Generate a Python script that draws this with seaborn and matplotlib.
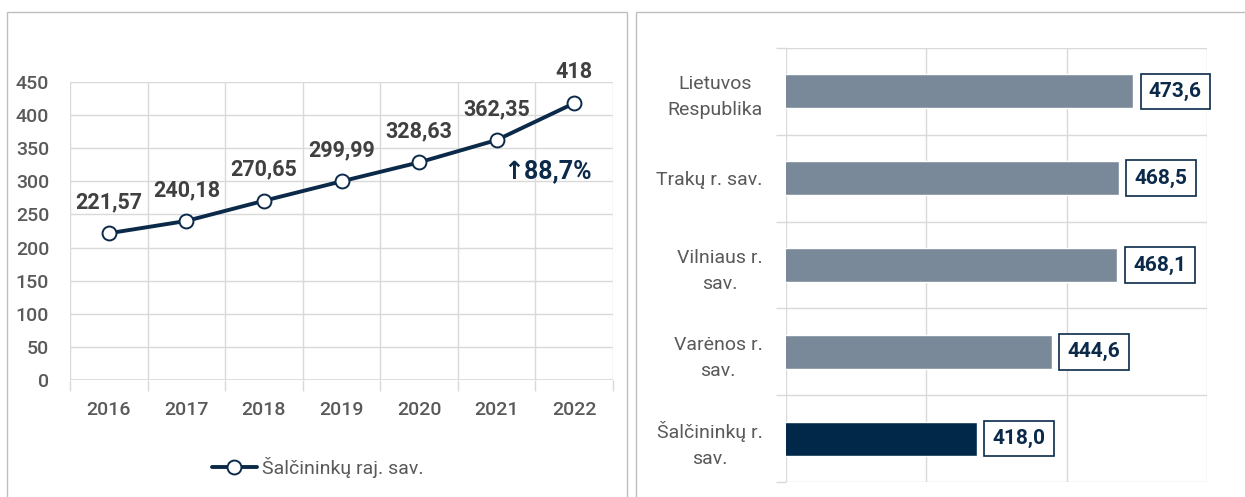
import matplotlib
matplotlib.use("Agg")
import matplotlib.pyplot as plt
from matplotlib import font_manager as fm
from matplotlib.patches import Rectangle
import seaborn as sns

years = ["2016", "2017", "2018", "2019", "2020", "2021", "2022"]
income = [221.57, 240.18, 270.65, 299.99, 328.63, 362.35, 418]
series_name = "Šalčininkų raj. sav."
growth_text = "↑88,7%"

regions = ["Lietuvos\nRespublika", "Trakų r. sav.", "Vilniaus r.\nsav.",
           "Varėnos r.\nsav.", "Šalčininkų r.\nsav."]
region_vals = [473.6, 468.5, 468.1, 444.6, 418.0]

navy = "#0b2a4a"
bar_dark = "#022849"
bar_gray = "#7a8999"
txt_gray = "#595959"
lbl_gray = "#404040"
grid_c = "#d9d9d9"

sns.set_theme(style="white")
names = {f.name for f in fm.fontManager.ttflist}
base = "Liberation Sans Narrow" if "Liberation Sans Narrow" in names else "Roboto"
plt.rcParams["font.family"] = [base, "DejaVu Sans"]

fig = plt.figure(figsize=(12.45, 4.97), dpi=100)
W, H = 1245, 497

# panel frames
fig.add_artist(Rectangle((7 / W, -0.1), (627 - 7) / W, (497 - 12) / H + 0.1,
                         transform=fig.transFigure, fill=False, ec="#bfbfbf", lw=1))
fig.add_artist(Rectangle((636 / W, -0.1), 0.6, (497 - 12) / H + 0.1,
                         transform=fig.transFigure, fill=False, ec="#bfbfbf", lw=1))

# ---- left: line chart
ax1 = fig.add_axes([70 / W, (H - 380) / H, (613 - 70) / W, (380 - 82) / H])
sns.lineplot(x=years, y=income, ax=ax1, color=navy, linewidth=2.8, marker="o",
             markersize=10, markerfacecolor="white", markeredgecolor=navy,
             markeredgewidth=1.4, label=series_name)
ax1.set_xlim(-0.5, len(years) - 0.5)
ax1.set_ylim(0, 450)
ax1.set_yticks(range(0, 451, 50))
ax1.set_xticks([i - 0.5 for i in range(len(years) + 1)], minor=True)
ax1.grid(axis="y", which="major", color=grid_c, lw=1)
ax1.grid(axis="x", which="minor", color=grid_c, lw=1)
for s in ax1.spines.values():
    s.set_visible(False)
ax1.axhline(0, color=grid_c, lw=1.2)
ax1.tick_params(axis="x", which="minor", length=8, color=grid_c, direction="out", bottom=True)
ax1.tick_params(axis="x", which="major", length=0, pad=15, labelsize=14, labelcolor=txt_gray)
ax1.tick_params(axis="y", length=0, pad=15, labelsize=14, labelcolor=txt_gray)
for t in ax1.get_xticklabels() + ax1.get_yticklabels():
    t.set_fontweight("medium")
ax1.set_xlabel("")
ax1.set_ylabel("")
for i, v in enumerate(income):
    lab = f"{v:g}".replace(".", ",")
    ax1.annotate(lab, (i, v), xytext=(0, 18), textcoords="offset points",
                 ha="center", va="baseline", fontsize=15.5, color=lbl_gray,
                 fontweight="semibold", annotation_clip=False)
ax1.text(5.66, 316, growth_text, ha="center", va="center", fontsize=18,
         color=navy, fontweight="semibold")
ax1.legend(loc="center", bbox_to_anchor=(318 / W, 30 / H), bbox_transform=fig.transFigure,
           frameon=False, fontsize=14, labelcolor=txt_gray, handlelength=2.3,
           handletextpad=0.3)

# ---- right: bar chart
ax2 = fig.add_axes([786 / W, (H - 482) / H, (1207 - 786) / W, (482 - 48) / H])
colors = [bar_gray] * (len(regions) - 1) + [bar_dark]
sns.barplot(x=region_vals, y=regions, orient="h", hue=regions, palette=colors,
            legend=False, width=0.39, ax=ax2, saturation=1)
ax2.set_xlim(350, 500)
ax2.set_xticks([350, 400, 450, 500])
ax2.set_xticklabels([])
ax2.set_yticks([i - 0.5 for i in range(len(regions) + 1)], minor=True)
ax2.grid(axis="x", which="major", color=grid_c, lw=1)
ax2.grid(axis="y", which="minor", color=grid_c, lw=1)
ax2.set_axisbelow(True)
for s in ax2.spines.values():
    s.set_visible(False)
ax2.tick_params(axis="y", which="minor", length=7, color=grid_c, direction="out", left=True)
ax2.tick_params(axis="y", which="major", length=0, pad=17, labelsize=14, labelcolor=txt_gray)
ax2.tick_params(axis="x", length=0)
for t in ax2.get_yticklabels():
    t.set_multialignment("center")
    t.set_linespacing(1.55)
ax2.set_xlabel("")
ax2.set_ylabel("")
for i, v in enumerate(region_vals):
    lab = f"{v:.1f}".replace(".", ",")
    ax2.annotate(lab, (v, i), xytext=(11.5, 0), textcoords="offset points",
                 ha="left", va="center", fontsize=15, color=navy, fontweight="semibold",
                 bbox=dict(boxstyle="square,pad=0.4", fc="white", ec=navy, lw=1.2),
                 annotation_clip=False)

fig.savefig("out.png", dpi=100)
